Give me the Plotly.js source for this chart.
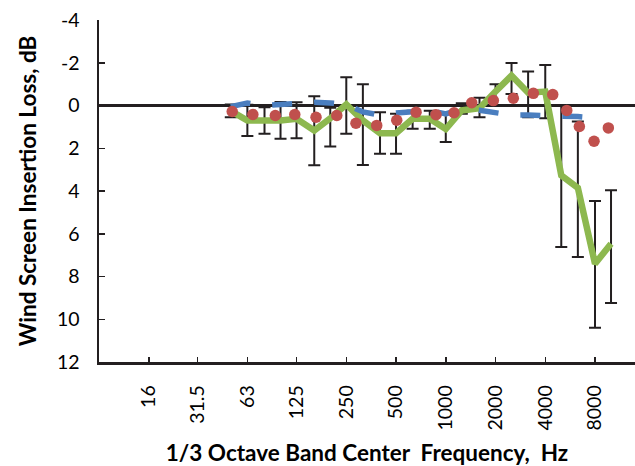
<!DOCTYPE html>
<html>
<head>
<meta charset="utf-8">
<script src="https://cdn.plot.ly/plotly-3.0.1.min.js"></script>
<style>html,body{margin:0;padding:0;background:#fff;}#chart{width:635px;height:466px;}</style>
</head>
<body>
<div id="chart"></div>
<script>
// 1/3 octave band centre frequencies (Hz) with data
const bands = [50,63,80,100,125,160,200,250,315,400,500,630,800,1000,1250,1600,2000,2500,3150,4000,5000,6300,8000,10000];
// green series (mean insertion loss, dB)
const greenVals = [0.25,0.7,0.7,0.7,0.62,1.17,0.6,-0.05,0.7,1.3,1.3,0.62,0.62,1.1,0.23,0.13,-0.65,-1.4,-0.6,-0.65,3.27,3.85,7.4,6.47];
// error bar bounds (dB)
const errUpperBound = [-0.05,-0.03,0.08,-0.16,-0.15,-0.43,0.1,-1.32,-1.0,0.31,0.39,0.25,0.25,0.39,-0.1,-0.36,-1.0,-1.99,-1.59,-1.9,0.0,0.75,4.47,3.97];
const errLowerBound = [0.55,1.43,1.32,1.56,1.53,2.8,1.92,1.32,2.78,2.26,2.26,1.09,1.09,1.71,0.39,0.55,0.0,-0.54,0.55,0.6,6.62,7.09,10.4,9.24];
// blue dashed series
const blueBands = [50,63,80,100,125,160,200,250,315,400,500,630,800,1000,1250,1600,2000,2500,3150,4000,5000,6300,8000];
const blueVals = [0.05,-0.12,0.0,-0.05,-0.15,-0.15,-0.12,-0.05,0.3,0.45,0.35,0.28,0.23,0.39,0.16,0.22,0.33,0.45,0.45,0.5,0.5,0.52,0.58];
// red dots series
const redFreq = [51,68,93,122,164,219,286,382,505,661,873,1122,1436,1941,2563,3389,4440,5397,6432,7893,9635];
const redVals = [0.28,0.42,0.47,0.42,0.55,0.47,0.83,0.93,0.69,0.31,0.43,0.34,-0.13,-0.23,-0.34,-0.57,-0.51,0.23,0.98,1.67,1.05];
// axis ticks
const xTickVals = [16,31.5,63,125,250,500,1000,2000,4000,8000];
const xTickText = ['16','31.5','63','125','250','500','1000','2000','4000','8000'];
const yTickVals = [-4,-2,0,2,4,6,8,10,12];
const yTickText = ['-4','-2','0','2','4','6','8','10','12'];

const errPlus = errLowerBound.map((b,i)=>b-greenVals[i]);
const errMinus = errUpperBound.map((t,i)=>greenVals[i]-t);

const FONT = 'Lato, "Open Sans", sans-serif';

const traces = [
  {
    // error bars, drawn beneath the green line
    x: bands, y: greenVals, type: 'scatter', mode: 'lines',
    line: {color: 'rgba(0,0,0,0)', width: 0},
    error_y: {type: 'data', symmetric: false, array: errPlus, arrayminus: errMinus,
              color: '#231F20', thickness: 2, width: 6},
    hoverinfo: 'skip'
  },
  {
    x: bands, y: greenVals, type: 'scatter', mode: 'lines',
    line: {color: '#8DB84F', width: 6.5},
    hoverinfo: 'skip'
  },
  {
    x: blueBands, y: blueVals, type: 'scatter', mode: 'lines',
    line: {color: '#4A7EBF', width: 5.5, dash: '20px,22px'},
    hoverinfo: 'skip'
  },
  {
    x: redFreq, y: redVals, type: 'scatter', mode: 'markers',
    marker: {color: '#C0504D', size: 11.5, line: {width: 0}},
    hoverinfo: 'skip'
  }
];

const layout = {
  width: 635, height: 466,
  margin: {l: 99, r: 0, t: 20, b: 104},
  paper_bgcolor: '#fff', plot_bgcolor: '#fff',
  showlegend: false,
  font: {family: FONT, color: '#000'},
  xaxis: {
    type: 'log', range: [Math.log10(7.97), Math.log10(13968)],
    tickvals: xTickVals, ticktext: xTickText, tickangle: -90,
    ticks: 'inside', ticklen: 5, tickwidth: 1.5, tickcolor: '#231F20',
    showline: true, linewidth: 2.5, linecolor: '#231F20',
    showgrid: false, zeroline: false,
    tickfont: {family: FONT, size: 19.5, color: '#000'},
    ticklabelstandoff: 13,
    title: {text: '1/3 Octave Band Center  Frequency,  Hz', font: {family: FONT, size: 22.5, weight: 'bold', color: '#000'}, standoff: 18}
  },
  yaxis: {
    range: [12, -4],
    tickvals: yTickVals, ticktext: yTickText,
    ticks: 'inside', ticklen: 6, tickwidth: 1.5, tickcolor: '#231F20',
    showline: true, linewidth: 2.5, linecolor: '#231F20',
    showgrid: false, zeroline: true, zerolinecolor: '#231F20', zerolinewidth: 3,
    tickfont: {family: FONT, size: 19.5, color: '#000'},
    ticklabelstandoff: 13,
    title: {text: 'Wind Screen Insertion Loss, dB', font: {family: FONT, size: 22.5, weight: 'bold', color: '#000'}, standoff: 14}
  }
};

Plotly.newPlot('chart', traces, layout, {staticPlot: true, displayModeBar: false});
</script>
</body>
</html>
